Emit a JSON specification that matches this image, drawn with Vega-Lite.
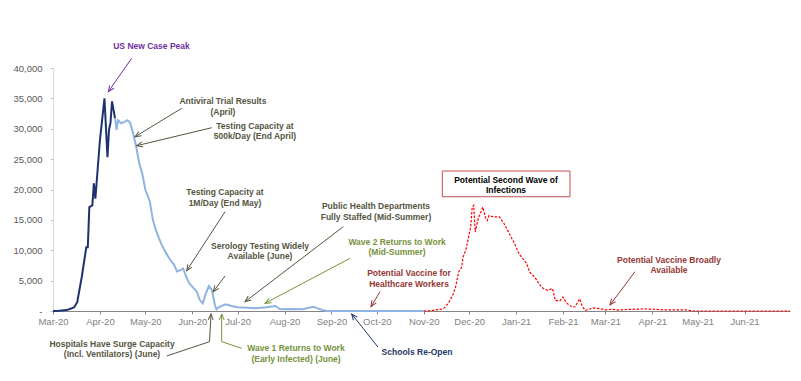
{
  "$schema": "https://vega.github.io/schema/vega-lite/v6.json",
  "width": 737,
  "height": 243,
  "autosize": {"type": "none"},
  "padding": {"left": 53, "top": 68, "right": 11, "bottom": 70},
  "background": "white",
  "config": {"view": {"stroke": null}, "font": "Liberation Sans"},
  "datasets": {
    "series": [
      {"date": "2020-03-01", "value": 0, "series": "actual"},
      {"date": "2020-03-05", "value": 50, "series": "actual"},
      {"date": "2020-03-10", "value": 150, "series": "actual"},
      {"date": "2020-03-13", "value": 400, "series": "actual"},
      {"date": "2020-03-15", "value": 630, "series": "actual"},
      {"date": "2020-03-17", "value": 1450, "series": "actual"},
      {"date": "2020-03-20", "value": 5600, "series": "actual"},
      {"date": "2020-03-23", "value": 10500, "series": "actual"},
      {"date": "2020-03-24", "value": 10500, "series": "actual"},
      {"date": "2020-03-25", "value": 17100, "series": "actual"},
      {"date": "2020-03-27", "value": 17400, "series": "actual"},
      {"date": "2020-03-28", "value": 21000, "series": "actual"},
      {"date": "2020-03-29", "value": 18500, "series": "actual"},
      {"date": "2020-04-01", "value": 28100, "series": "actual"},
      {"date": "2020-04-04", "value": 35000, "series": "actual"},
      {"date": "2020-04-06", "value": 25300, "series": "actual"},
      {"date": "2020-04-07", "value": 29800, "series": "actual"},
      {"date": "2020-04-08", "value": 31000, "series": "actual"},
      {"date": "2020-04-09", "value": 34500, "series": "actual"},
      {"date": "2020-04-11", "value": 31700, "series": "actual"},
      {"date": "2020-04-11", "value": 31700, "series": "projection"},
      {"date": "2020-04-12", "value": 29800, "series": "projection"},
      {"date": "2020-04-13", "value": 31400, "series": "projection"},
      {"date": "2020-04-15", "value": 30900, "series": "projection"},
      {"date": "2020-04-17", "value": 31100, "series": "projection"},
      {"date": "2020-04-19", "value": 31400, "series": "projection"},
      {"date": "2020-04-21", "value": 31000, "series": "projection"},
      {"date": "2020-04-23", "value": 29200, "series": "projection"},
      {"date": "2020-04-25", "value": 27000, "series": "projection"},
      {"date": "2020-04-27", "value": 24300, "series": "projection"},
      {"date": "2020-04-29", "value": 22600, "series": "projection"},
      {"date": "2020-05-01", "value": 20000, "series": "projection"},
      {"date": "2020-05-04", "value": 18000, "series": "projection"},
      {"date": "2020-05-06", "value": 15000, "series": "projection"},
      {"date": "2020-05-08", "value": 13300, "series": "projection"},
      {"date": "2020-05-10", "value": 12000, "series": "projection"},
      {"date": "2020-05-12", "value": 10800, "series": "projection"},
      {"date": "2020-05-15", "value": 9400, "series": "projection"},
      {"date": "2020-05-17", "value": 8600, "series": "projection"},
      {"date": "2020-05-20", "value": 7600, "series": "projection"},
      {"date": "2020-05-22", "value": 6500, "series": "projection"},
      {"date": "2020-05-24", "value": 6700, "series": "projection"},
      {"date": "2020-05-26", "value": 7000, "series": "projection"},
      {"date": "2020-05-28", "value": 5650, "series": "projection"},
      {"date": "2020-05-30", "value": 4560, "series": "projection"},
      {"date": "2020-06-01", "value": 4000, "series": "projection"},
      {"date": "2020-06-04", "value": 3180, "series": "projection"},
      {"date": "2020-06-06", "value": 1800, "series": "projection"},
      {"date": "2020-06-08", "value": 1260, "series": "projection"},
      {"date": "2020-06-10", "value": 2900, "series": "projection"},
      {"date": "2020-06-12", "value": 4100, "series": "projection"},
      {"date": "2020-06-14", "value": 3450, "series": "projection"},
      {"date": "2020-06-16", "value": 990, "series": "projection"},
      {"date": "2020-06-17", "value": 280, "series": "projection"},
      {"date": "2020-06-19", "value": 700, "series": "projection"},
      {"date": "2020-06-23", "value": 1100, "series": "projection"},
      {"date": "2020-06-27", "value": 820, "series": "projection"},
      {"date": "2020-07-01", "value": 610, "series": "projection"},
      {"date": "2020-07-07", "value": 540, "series": "projection"},
      {"date": "2020-07-13", "value": 440, "series": "projection"},
      {"date": "2020-07-20", "value": 610, "series": "projection"},
      {"date": "2020-07-26", "value": 820, "series": "projection"},
      {"date": "2020-07-29", "value": 280, "series": "projection"},
      {"date": "2020-08-04", "value": 330, "series": "projection"},
      {"date": "2020-08-13", "value": 280, "series": "projection"},
      {"date": "2020-08-20", "value": 700, "series": "projection"},
      {"date": "2020-08-23", "value": 440, "series": "projection"},
      {"date": "2020-08-26", "value": 160, "series": "projection"},
      {"date": "2020-08-29", "value": 0, "series": "projection"},
      {"date": "2020-11-01", "value": 0, "series": "projection"},
      {"date": "2020-11-01", "value": 0, "series": "second"},
      {"date": "2020-11-07", "value": 100, "series": "second"},
      {"date": "2020-11-14", "value": 360, "series": "second"},
      {"date": "2020-11-17", "value": 1200, "series": "second"},
      {"date": "2020-11-20", "value": 2500, "series": "second"},
      {"date": "2020-11-22", "value": 3900, "series": "second"},
      {"date": "2020-11-24", "value": 6400, "series": "second"},
      {"date": "2020-11-26", "value": 7200, "series": "second"},
      {"date": "2020-11-27", "value": 8900, "series": "second"},
      {"date": "2020-11-29", "value": 10200, "series": "second"},
      {"date": "2020-12-01", "value": 12700, "series": "second"},
      {"date": "2020-12-02", "value": 13800, "series": "second"},
      {"date": "2020-12-03", "value": 17100, "series": "second"},
      {"date": "2020-12-04", "value": 17400, "series": "second"},
      {"date": "2020-12-05", "value": 13000, "series": "second"},
      {"date": "2020-12-07", "value": 15200, "series": "second"},
      {"date": "2020-12-10", "value": 17100, "series": "second"},
      {"date": "2020-12-12", "value": 15200, "series": "second"},
      {"date": "2020-12-13", "value": 14900, "series": "second"},
      {"date": "2020-12-14", "value": 15700, "series": "second"},
      {"date": "2020-12-17", "value": 15500, "series": "second"},
      {"date": "2020-12-21", "value": 15500, "series": "second"},
      {"date": "2020-12-24", "value": 14400, "series": "second"},
      {"date": "2020-12-28", "value": 12500, "series": "second"},
      {"date": "2020-12-31", "value": 11100, "series": "second"},
      {"date": "2021-01-03", "value": 9400, "series": "second"},
      {"date": "2021-01-08", "value": 7800, "series": "second"},
      {"date": "2021-01-10", "value": 6400, "series": "second"},
      {"date": "2021-01-12", "value": 5900, "series": "second"},
      {"date": "2021-01-15", "value": 5000, "series": "second"},
      {"date": "2021-01-16", "value": 4500, "series": "second"},
      {"date": "2021-01-19", "value": 3700, "series": "second"},
      {"date": "2021-01-22", "value": 3400, "series": "second"},
      {"date": "2021-01-25", "value": 3700, "series": "second"},
      {"date": "2021-01-27", "value": 1700, "series": "second"},
      {"date": "2021-01-30", "value": 1700, "series": "second"},
      {"date": "2021-02-01", "value": 2300, "series": "second"},
      {"date": "2021-02-03", "value": 1450, "series": "second"},
      {"date": "2021-02-04", "value": 1200, "series": "second"},
      {"date": "2021-02-07", "value": 630, "series": "second"},
      {"date": "2021-02-09", "value": 700, "series": "second"},
      {"date": "2021-02-12", "value": 2000, "series": "second"},
      {"date": "2021-02-14", "value": 630, "series": "second"},
      {"date": "2021-02-16", "value": 100, "series": "second"},
      {"date": "2021-02-21", "value": 500, "series": "second"},
      {"date": "2021-02-25", "value": 400, "series": "second"},
      {"date": "2021-03-01", "value": 200, "series": "second"},
      {"date": "2021-03-06", "value": 300, "series": "second"},
      {"date": "2021-03-08", "value": 150, "series": "second"},
      {"date": "2021-03-15", "value": 250, "series": "second"},
      {"date": "2021-03-27", "value": 350, "series": "second"},
      {"date": "2021-04-08", "value": 200, "series": "second"},
      {"date": "2021-04-23", "value": 200, "series": "second"},
      {"date": "2021-04-28", "value": 0, "series": "second"},
      {"date": "2021-07-01", "value": 0, "series": "second"}
    ],
    "notes": [
      {"date": "2020-05-05T02:00:00Z", "value": 43670, "label": "US New Case Peak", "group": "peak"},
      {"date": "2020-06-21T07:00:00Z", "value": 34590, "label": "Antiviral Trial Results\n(April)", "group": "milestone"},
      {"date": "2020-07-12T11:00:00Z", "value": 30510, "label": "Testing Capacity at\n500k/Day (End April)", "group": "milestone"},
      {"date": "2020-06-22T16:00:00Z", "value": 19560, "label": "Testing Capacity at\n1M/Day (End May)", "group": "milestone"},
      {"date": "2020-07-15T19:00:00Z", "value": 10760, "label": "Serology Testing Widely\nAvailable (June)", "group": "milestone"},
      {"date": "2020-09-30T10:00:00Z", "value": 17290, "label": "Public Health Departments\nFully Staffed (Mid-Summer)", "group": "milestone"},
      {"date": "2020-10-14T08:00:00Z", "value": 11410, "label": "Wave 2 Returns to Work\n(Mid-Summer)", "group": "work"},
      {"date": "2020-10-22T06:00:00Z", "value": 6230, "label": "Potential Vaccine for\nHealthcare Workers", "group": "vaccine"},
      {"date": "2020-12-25T08:00:00Z", "value": 21610, "label": "Potential Second Wave of\nInfections", "group": "box"},
      {"date": "2021-04-12T01:00:00Z", "value": 8450, "label": "Potential Vaccine Broadly\nAvailable", "group": "vaccine"},
      {"date": "2020-04-09T00:00:00Z", "value": -5375, "label": "Hospitals Have Surge Capacity\n(Incl. Ventilators) (June)", "group": "milestone"},
      {"date": "2020-08-08T14:00:00Z", "value": -6140, "label": "Wave 1 Returns to Work\n(Early Infected) (June)", "group": "work"},
      {"date": "2020-10-27T13:00:00Z", "value": -6700, "label": "Schools Re-Open", "group": "schools"}
    ],
    "box": [
      {"date": "2020-11-13T06:00:00Z", "date2": "2021-02-05T15:00:00Z", "value": 23040, "value2": 18810}
    ],
    "arrows": [
      {"date": "2020-04-22T00:00:00Z", "value": 41600, "date2": "2020-04-06T13:00:00Z", "value2": 36100, "group": "peak"},
      {"date": "2020-05-25T01:00:00Z", "value": 33360, "date2": "2020-04-24T05:00:00Z", "value2": 28690, "group": "milestone"},
      {"date": "2020-06-13T21:00:00Z", "value": 30170, "date2": "2020-04-25T07:00:00Z", "value2": 27210, "group": "milestone"},
      {"date": "2020-06-22T16:00:00Z", "value": 16345, "date2": "2020-05-28T08:00:00Z", "value2": 6630, "group": "milestone"},
      {"date": "2020-06-22T16:00:00Z", "value": 5760, "date2": "2020-06-14T22:00:00Z", "value2": 3180, "group": "milestone"},
      {"date": "2020-09-08T20:00:00Z", "value": 13880, "date2": "2020-07-05T21:00:00Z", "value2": 1530, "group": "milestone"},
      {"date": "2020-09-13T06:00:00Z", "value": 8670, "date2": "2020-07-19T02:00:00Z", "value2": 1270, "group": "work"},
      {"date": "2020-10-03T02:00:00Z", "value": 3180, "date2": "2020-09-27T03:00:00Z", "value2": 710, "group": "vaccine"},
      {"date": "2021-03-20T14:00:00Z", "value": 6470, "date2": "2021-03-04T01:00:00Z", "value2": 990, "group": "vaccine"},
      {"date": "2020-05-15T03:00:00Z", "value": -7410, "date2": "2020-06-12T10:00:00Z", "value2": -5050, "group": "milestone"},
      {"date": "2020-06-12T10:00:00Z", "value": -5050, "date2": "2020-06-13T10:00:00Z", "value2": -490, "group": "milestone"},
      {"date": "2020-07-03T17:00:00Z", "value": -6140, "date2": "2020-06-20T11:00:00Z", "value2": -5050, "group": "work"},
      {"date": "2020-06-20T11:00:00Z", "value": -5050, "date2": "2020-06-20T11:00:00Z", "value2": -490, "group": "work"},
      {"date": "2020-10-01T17:00:00Z", "value": -5925, "date2": "2020-09-14T09:00:00Z", "value2": -490, "group": "schools"}
    ],
    "heads": [
      {"date": "2020-04-06T13:00:00Z", "value": 36100, "ang": 215, "group": "peak"},
      {"date": "2020-04-24T05:00:00Z", "value": 28690, "ang": 238.7, "group": "milestone"},
      {"date": "2020-04-25T07:00:00Z", "value": 27210, "ang": 256.5, "group": "milestone"},
      {"date": "2020-05-28T08:00:00Z", "value": 6630, "ang": 213, "group": "milestone"},
      {"date": "2020-06-14T22:00:00Z", "value": 3180, "ang": 216.7, "group": "milestone"},
      {"date": "2020-07-05T21:00:00Z", "value": 1530, "ang": 232.7, "group": "milestone"},
      {"date": "2020-07-19T02:00:00Z", "value": 1270, "ang": 242.1, "group": "work"},
      {"date": "2020-09-27T03:00:00Z", "value": 710, "ang": 211, "group": "vaccine"},
      {"date": "2021-03-04T01:00:00Z", "value": 990, "ang": 216.9, "group": "vaccine"},
      {"date": "2020-06-13T10:00:00Z", "value": -490, "ang": 3, "group": "milestone"},
      {"date": "2020-06-20T11:00:00Z", "value": -490, "ang": 0, "group": "work"},
      {"date": "2020-09-14T09:00:00Z", "value": -490, "ang": 322, "group": "schools"}
    ]
  },
  "encoding": {
    "x": {
      "field": "date",
      "type": "temporal",
      "scale": {
        "type": "utc",
        "domain": [
          {"year": 2020, "month": 3, "date": 1, "utc": true},
          {"year": 2021, "month": 7, "date": 1, "utc": true}
        ]
      },
      "axis": {
        "values": [
          {"year": 2020, "month": 3, "date": 1, "utc": true},
          {"year": 2020, "month": 4, "date": 1, "utc": true},
          {"year": 2020, "month": 5, "date": 1, "utc": true},
          {"year": 2020, "month": 6, "date": 1, "utc": true},
          {"year": 2020, "month": 7, "date": 1, "utc": true},
          {"year": 2020, "month": 8, "date": 1, "utc": true},
          {"year": 2020, "month": 9, "date": 1, "utc": true},
          {"year": 2020, "month": 10, "date": 1, "utc": true},
          {"year": 2020, "month": 11, "date": 1, "utc": true},
          {"year": 2020, "month": 12, "date": 1, "utc": true},
          {"year": 2021, "month": 1, "date": 1, "utc": true},
          {"year": 2021, "month": 2, "date": 1, "utc": true},
          {"year": 2021, "month": 3, "date": 1, "utc": true},
          {"year": 2021, "month": 4, "date": 1, "utc": true},
          {"year": 2021, "month": 5, "date": 1, "utc": true},
          {"year": 2021, "month": 6, "date": 1, "utc": true}
        ],
        "format": "%b-%y",
        "title": null,
        "grid": false,
        "domainColor": "#868686",
        "tickColor": "#868686",
        "tickSize": 3,
        "labelPadding": 2,
        "labelFontSize": 9.5,
        "labelFont": "Liberation Sans",
        "labelColor": "#7f7f7f",
        "labelFlush": false,
        "labelOverlap": false
      }
    },
    "y": {
      "field": "value",
      "type": "quantitative",
      "scale": {"domain": [0, 40000], "nice": false, "zero": false},
      "axis": {
        "values": [0, 5000, 10000, 15000, 20000, 25000, 30000, 35000, 40000],
        "labelExpr": "datum.value == 0 ? '-' : format(datum.value, ',')",
        "title": null,
        "grid": false,
        "domainColor": "#d9d9d9",
        "tickColor": "#bfbfbf",
        "tickSize": 3,
        "labelPadding": 8,
        "labelFontSize": 9.5,
        "labelFont": "Liberation Sans",
        "labelColor": "#595959",
        "labelFlush": false
      }
    }
  },
  "layer": [
    {
      "data": {"name": "series"},
      "transform": [{"filter": "datum.series == 'actual'"}],
      "mark": {"type": "line", "color": "#1c3370", "strokeWidth": 2}
    },
    {
      "data": {"name": "series"},
      "transform": [{"filter": "datum.series == 'projection'"}],
      "mark": {"type": "line", "color": "#8fb4e3", "strokeWidth": 2}
    },
    {
      "data": {"name": "series"},
      "transform": [{"filter": "datum.series == 'second'"}],
      "mark": {"type": "line", "color": "#ff0000", "strokeWidth": 1.2, "strokeDash": [2.5, 1.5]}
    },
    {
      "data": {"name": "box"},
      "mark": {"type": "rect", "fill": "white", "stroke": "#c0504d", "strokeWidth": 1},
      "encoding": {"x2": {"field": "date2"}, "y2": {"field": "value2"}}
    },
    {
      "data": {"name": "arrows"},
      "mark": {"type": "rule", "strokeWidth": 1},
      "encoding": {
        "x2": {"field": "date2"},
        "y2": {"field": "value2"},
        "color": {
          "field": "group",
          "type": "nominal",
          "scale": {
            "domain": ["peak", "milestone", "work", "vaccine", "schools", "box"],
            "range": ["#7030a0", "#55553f", "#76923c", "#953735", "#1f3864", "#000000"]
          },
          "legend": null
        }
      }
    },
    {
      "data": {"name": "heads"},
      "mark": {"type": "point", "shape": "M-0.5,1.2L0,0L0.5,1.2", "filled": false, "size": 100, "strokeWidth": 1, "opacity": 1},
      "encoding": {
        "angle": {"field": "ang", "type": "quantitative", "scale": null},
        "color": {
          "field": "group",
          "type": "nominal",
          "scale": {
            "domain": ["peak", "milestone", "work", "vaccine", "schools", "box"],
            "range": ["#7030a0", "#55553f", "#76923c", "#953735", "#1f3864", "#000000"]
          },
          "legend": null
        }
      }
    },
    {
      "data": {"name": "notes"},
      "mark": {"type": "text", "font": "Liberation Sans", "fontWeight": "bold", "fontSize": 8.5, "lineBreak": "\n", "lineHeight": 10.7, "align": "center", "baseline": "middle"},
      "encoding": {
        "text": {"field": "label"},
        "color": {
          "field": "group",
          "type": "nominal",
          "scale": {
            "domain": ["peak", "milestone", "work", "vaccine", "schools", "box"],
            "range": ["#7030a0", "#55553f", "#76923c", "#953735", "#1f3864", "#000000"]
          },
          "legend": null
        }
      }
    }
  ]
}
